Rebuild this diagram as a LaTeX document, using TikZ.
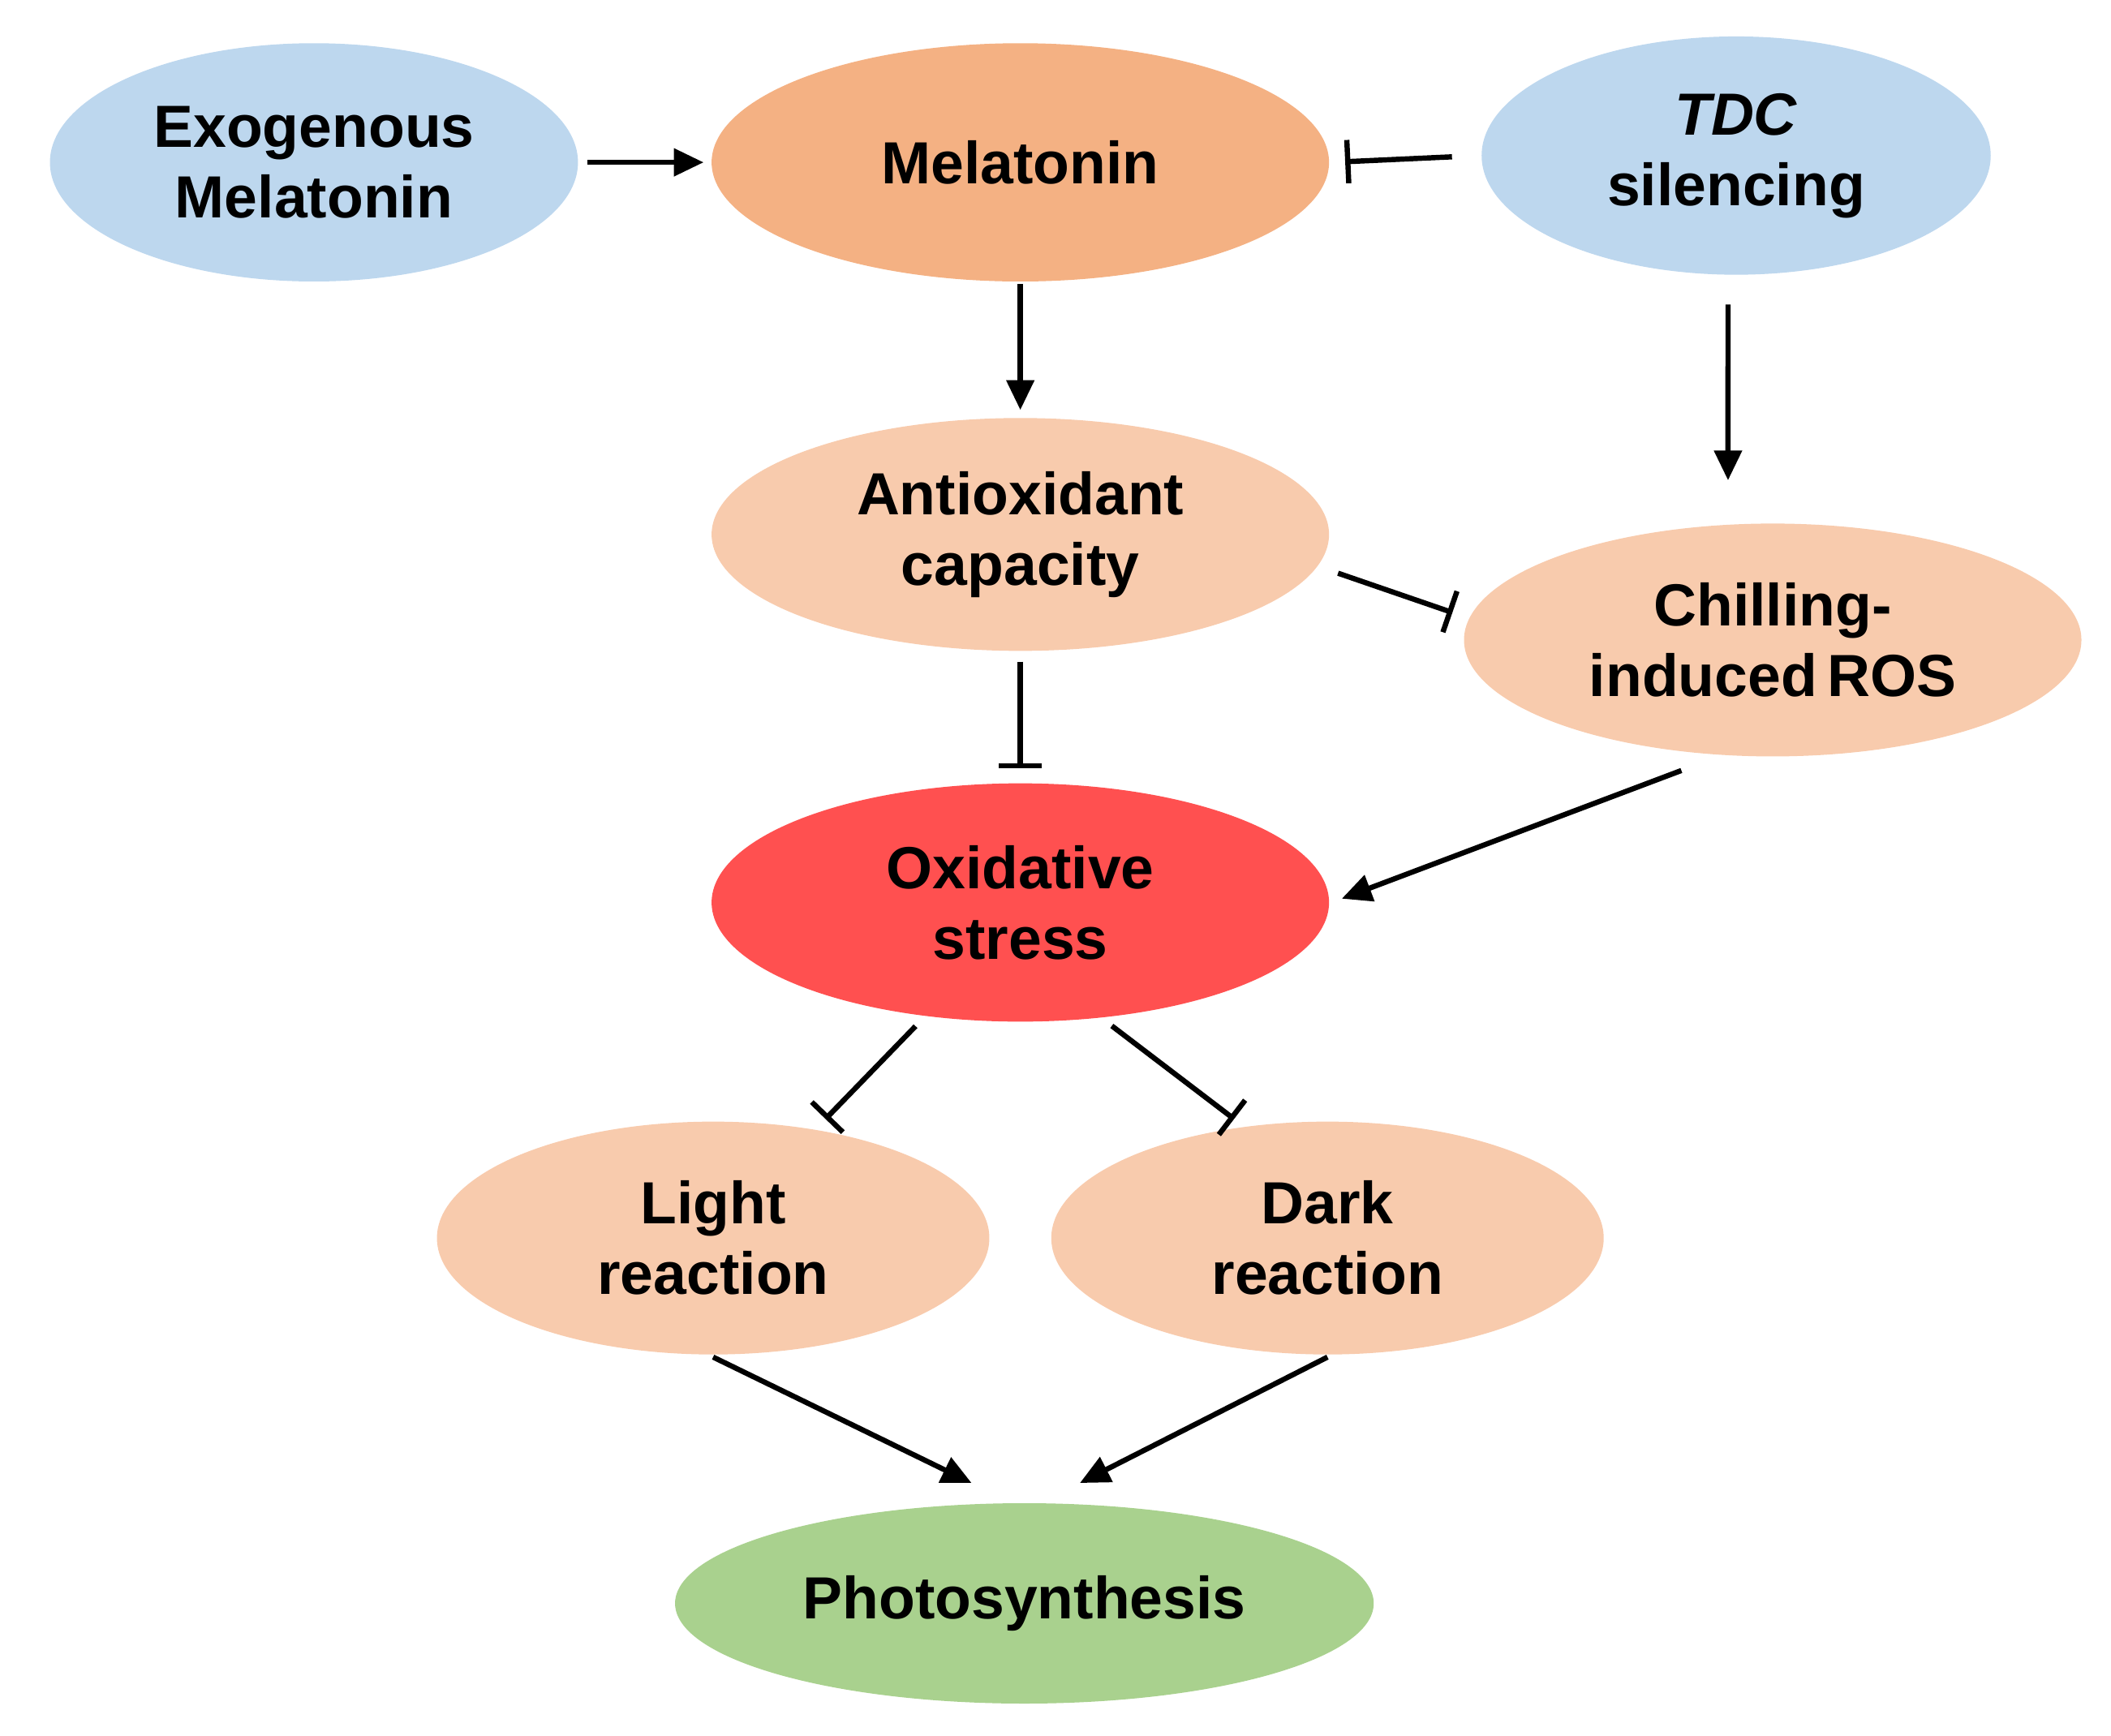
\documentclass[tikz,border=0pt]{standalone}
\usepackage{fontspec}
\setmainfont{Liberation Sans}
\usetikzlibrary{shapes.geometric, arrows.meta, positioning}
\definecolor{blu}{HTML}{BDD7EE}
\definecolor{mel}{HTML}{F4B183}
\definecolor{pch}{HTML}{F8CBAD}
\definecolor{rd}{HTML}{FF5050}
\definecolor{grn}{HTML}{A9D18E}
\begin{document}
\begin{tikzpicture}[x=0.01cm, y=-0.01cm, line width=1.1pt,
    font=\fontsize{12.5}{14.8}\selectfont\bfseries]

    % Define block styles
    \tikzset{
      oval/.style={ellipse, draw=none, align=center, inner sep=0pt,
        minimum width=#1},
      act/.style={-{Triangle[length=0.22cm, width=0.2cm]}},
      inh/.style={-{Bar[width=0.32cm]}}
    }
    \useasboundingbox (0,0) rectangle (1560,1283);

    % Define nodes
    \node [oval=3.9cm, minimum height=1.76cm, fill=blu] (exo) at (232,120) {Exogenous\\Melatonin};
    \node [oval=4.56cm, minimum height=1.76cm, fill=mel] (melat) at (754,120) {Melatonin};
    \node [oval=3.76cm, minimum height=1.76cm, fill=blu] (tdc) at (1283,115) {\textit{TDC}\\silencing};
    \node [oval=4.56cm, minimum height=1.72cm, fill=pch] (anti) at (754,395) {Antioxidant\\capacity};
    \node [oval=4.56cm, minimum height=1.72cm, fill=pch] (chill) at (1310,473) {Chilling-\\induced\,ROS};
    \node [oval=4.56cm, minimum height=1.76cm, fill=rd] (ox) at (754,667) {Oxidative\\stress};
    \node [oval=4.08cm, minimum height=1.72cm, fill=pch] (light) at (527,915) {Light\\reaction};
    \node [oval=4.08cm, minimum height=1.72cm, fill=pch] (dark) at (981,915) {Dark\\reaction};
    \node [oval=5.16cm, minimum height=1.48cm, fill=grn] (photo) at (757,1185) {Photosynthesis};

    % Draw edges
    \draw [act, shorten <=0.05cm, shorten >=0.04cm] (exo.east) -- (melat.west);
    \draw [inh, shorten <=0.2cm, shorten >=0.1cm] (tdc.west) -- (melat.east);
    \draw [act, shorten >=0.04cm] (melat.south) -- (anti.north);
    \draw [act, shorten <=0.2cm, shorten >=0.3cm] ([xshift=-0.06cm]tdc.south) -- ([xshift=-0.33cm]chill.north);
    \draw [inh, shorten <=0.05cm, shorten >=0.07cm] ([yshift=-0.27cm]anti.east) -- ([yshift=0.18cm]chill.west);
    \draw [inh, shorten <=0.06cm, shorten >=0.09cm] (anti.south) -- (ox.north);
    \draw [act, shorten <=0.24cm, shorten >=0.08cm] ([xshift=-0.45cm]chill.south) -- (ox.east);
    \draw [inh, shorten <=0.02cm] ([xshift=-0.76cm]ox.south) -- ([xshift=0.83cm]light.north);
    \draw [inh, shorten <=0.02cm] ([xshift=0.66cm]ox.south) -- ([xshift=-0.69cm]dark.north);
    \draw [act] (light.south) -- ([xshift=-0.39cm, yshift=0.13cm]photo.north);
    \draw [act] (dark.south) -- ([xshift=0.41cm, yshift=0.13cm]photo.north);

\end{tikzpicture}
\end{document}
